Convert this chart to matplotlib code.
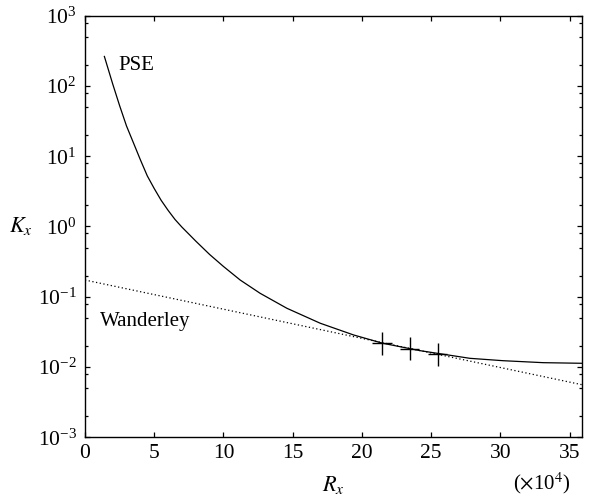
import numpy as np
import matplotlib
matplotlib.use('Agg')
import matplotlib.pyplot as plt
from matplotlib.ticker import LogLocator, NullFormatter, MultipleLocator

plt.rcParams['font.family'] = ['Liberation Serif', 'DejaVu Serif']
plt.rcParams['mathtext.fontset'] = 'stix'
plt.rcParams['font.size'] = 15

# PSE curve, R_x in units of 1e4
pse_x = [1.40, 2.0, 2.5, 3.0, 3.5, 4.0, 4.5, 5.0, 5.5, 6.0, 6.5, 7.0,
         7.5, 8.0, 9.0, 10.0, 11.21, 12.65, 14.58, 16.99, 19.4, 21.5,
         24.2, 27.8, 30.2, 33.1, 35.9]
pse_k = [263, 107, 52.5, 26.9, 15.5, 8.9, 5.25, 3.47, 2.36, 1.70, 1.26,
         0.98, 0.78, 0.62, 0.40, 0.27, 0.173, 0.112, 0.0686, 0.042,
         0.0286, 0.0218, 0.0171, 0.0133, 0.0123, 0.01153, 0.0113]

# Wanderley correlation (straight on the log axis)
wand_x = [0.0, 35.9]
wand_k = [0.173, 0.0056]

# measured points with error bars
meas_x = [21.45, 23.45, 25.47]
meas_k = [0.0218, 0.0181, 0.0152]
meas_xerr = 0.7
meas_fac = 1.46

fig = plt.figure(figsize=(5.89, 4.95), dpi=100)
ax = fig.add_axes([0.1443, 0.1166, 0.8438, 0.8517])

ax.plot(pse_x, pse_k, color='black', lw=0.9)
ax.plot(wand_x, wand_k, color='black', lw=0.9, linestyle=(0, (1, 2)))

mk = np.array(meas_k)
yerr = [mk - mk / meas_fac, mk * meas_fac - mk]
ax.errorbar(meas_x, meas_k, xerr=meas_xerr, yerr=yerr, fmt='none',
            ecolor='black', elinewidth=1.0, capsize=0)

ax.set_yscale('log')
ax.set_xlim(0, 35.9)
ax.set_ylim(1e-3, 1e3)
ax.xaxis.set_major_locator(MultipleLocator(5))
ax.yaxis.set_major_locator(LogLocator(base=10, numticks=10))
ax.yaxis.set_minor_locator(LogLocator(base=10, subs=[2, 5, 8], numticks=20))
ax.yaxis.set_minor_formatter(NullFormatter())

ax.tick_params(which='both', direction='in', top=True, right=True,
               labelsize=15.5)
ax.tick_params(which='major', length=3.5, width=0.9)
ax.tick_params(which='minor', length=2.0, width=0.9)
ax.tick_params(axis='y', pad=6)
ax.tick_params(axis='x', pad=5)
for s in ax.spines.values():
    s.set_linewidth(1.0)

ax.text(2.39, 198, 'PSE', va='center', ha='left')
ax.text(1.08, 0.0442, 'Wanderley', va='center', ha='left')

ax.set_xlabel('$R_x$', va='center', fontsize=16)
ax.xaxis.set_label_coords(0.5, -0.112)
ax.set_ylabel('$K_x$', rotation=0, va='center', ha='center', fontsize=16)
ax.yaxis.set_label_coords(-0.13, 0.5)
ax.text(0.92, -0.108, r'($\times$10$^4$)', transform=ax.transAxes,
        ha='center', va='center')

fig.savefig('out.png', dpi=100)
